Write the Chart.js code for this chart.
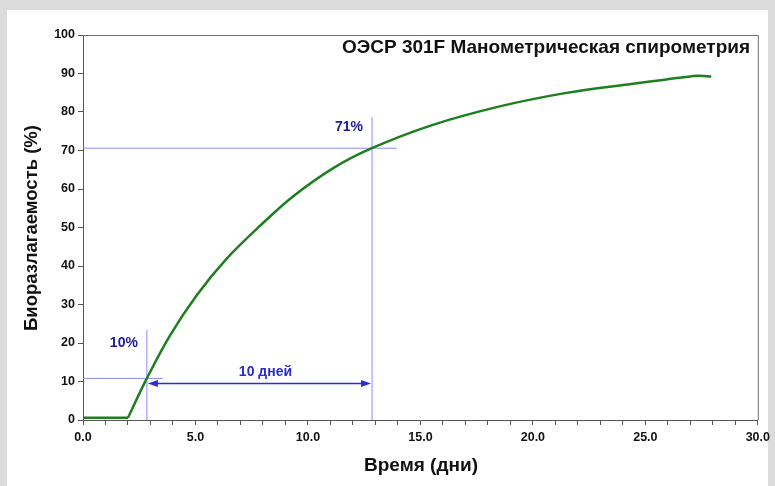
<!DOCTYPE html>
<html>
<head>
<meta charset="utf-8">
<script src="https://cdn.jsdelivr.net/npm/chart.js@4.4.1/dist/chart.umd.min.js"></script>
<style>
html,body{margin:0;padding:0;background:#dcdcdc;}
canvas{display:block;}
</style>
</head>
<body>
<canvas id="c" width="775" height="486"></canvas>
<script>
// ---- data ----
const chartTitle = "ОЭСР 301F Манометрическая спирометрия";
const xTitle = "Время (дни)";
const yTitle = "Биоразлагаемость (%)";

const lagDays   = [0, 2.0];
const lagValues = [0.6, 0.6];

const curveDays   = [2.0, 2.82, 3.85, 5.04, 6.37, 7.99, 9.32, 11.09, 12.84, 15.52, 18.48, 21.43, 24.38, 25.86, 27.34, 27.93];
const curveValues = [0.6, 10.6, 21.8, 32.3, 41.8, 51.1, 58.0, 65.3, 70.6, 76.6, 81.4, 84.9, 87.3, 88.4, 89.4, 89.2];

// guide markers
const markerDays    = [2.84, 12.85];
const markerLevels  = [10.8, 70.6];
const markerTops    = [23.4, 78.7];
const markerEnds    = [3.55, 13.95];
const markerLabels  = ["10%", "71%"];
const spanLabel     = "10 дней";
const spanLevel     = 9.6;

const xTicksLabelled = [0, 5, 10, 15, 20, 25, 30];

// ---- build datasets ----
const toXY = (xs, ys) => xs.map((x, i) => ({x, y: ys[i]}));
const guideSets = [];
markerDays.forEach((d, i) => {
  guideSets.push({data: [{x: 0, y: markerLevels[i]}, {x: markerEnds[i], y: markerLevels[i]}]});
  guideSets.push({data: [{x: d, y: 0}, {x: d, y: markerTops[i]}]});
});

const FONT = "'Liberation Sans', Arial, sans-serif";

const bgPlugin = {
  id: 'bg',
  beforeDraw(chart) {
    const ctx = chart.ctx;
    ctx.save();
    ctx.fillStyle = '#dcdcdc';
    ctx.fillRect(0, 0, chart.width, chart.height);
    ctx.fillStyle = '#ffffff';
    ctx.fillRect(7, 10, 761, chart.height - 10);
    ctx.restore();
  }
};

const annPlugin = {
  id: 'ann',
  afterDraw(chart) {
    const ctx = chart.ctx;
    const xs = chart.scales.x, ys = chart.scales.y;
    const a = chart.chartArea;
    ctx.save();
    // frame top/right
    ctx.strokeStyle = '#707070';
    ctx.lineWidth = 1;
    ctx.beginPath();
    ctx.moveTo(a.left, a.top + 0.5);
    ctx.lineTo(a.right + 0.5, a.top + 0.5);
    ctx.lineTo(a.right + 0.5, a.bottom);
    ctx.stroke();

    // chart title inside plot
    ctx.fillStyle = '#111';
    ctx.font = "bold 19px " + FONT;
    ctx.textAlign = 'right';
    ctx.textBaseline = 'middle';
    ctx.fillText(chartTitle, 750, 48);

    // axis titles
    ctx.textAlign = 'center';
    ctx.fillText(xTitle, 421, 466);
    ctx.save();
    ctx.font = "bold 18.5px " + FONT;
    ctx.translate(32, 228);
    ctx.rotate(-Math.PI / 2);
    ctx.fillText(yTitle, 0, 0);
    ctx.restore();

    // marker labels
    ctx.fillStyle = '#1a1a9c';
    ctx.font = "bold 14px " + FONT;
    ctx.textAlign = 'right';
    ctx.fillText(markerLabels[0], xs.getPixelForValue(markerDays[0]) - 9, ys.getPixelForValue(20.0));
    ctx.fillText(markerLabels[1], xs.getPixelForValue(markerDays[1]) - 9, ys.getPixelForValue(76.0));

    // span arrow
    const x1 = xs.getPixelForValue(markerDays[0]);
    const x2 = xs.getPixelForValue(markerDays[1]);
    const y = Math.round(ys.getPixelForValue(spanLevel)) + 0.5;
    ctx.strokeStyle = '#2a2ae0';
    ctx.fillStyle = '#2a2ae0';
    ctx.lineWidth = 1.5;
    ctx.beginPath();
    ctx.moveTo(x1 + 8, y);
    ctx.lineTo(x2 - 8, y);
    ctx.stroke();
    ctx.beginPath();
    ctx.moveTo(x1 + 1, y); ctx.lineTo(x1 + 11, y - 3.5); ctx.lineTo(x1 + 11, y + 3.5); ctx.closePath();
    ctx.fill();
    ctx.beginPath();
    ctx.moveTo(x2 - 1, y); ctx.lineTo(x2 - 11, y - 3.5); ctx.lineTo(x2 - 11, y + 3.5); ctx.closePath();
    ctx.fill();
    ctx.font = "bold 14px " + FONT;
    ctx.textAlign = 'center';
    ctx.fillStyle = '#2a2ad0';
    ctx.fillText(spanLabel, (x1 + x2) / 2 + 6, y - 11);
    ctx.restore();
  }
};

new Chart(document.getElementById('c'), {
  type: 'line',
  data: {
    datasets: [
      {data: toXY(lagDays, lagValues), borderColor: '#1e7f1e', borderWidth: 2.5, pointRadius: 0, tension: 0, order: 0},
      {data: toXY(curveDays, curveValues), borderColor: '#1e7f1e', borderWidth: 2.5, pointRadius: 0, tension: 0.35, order: 0},
      ...guideSets.map(g => Object.assign(g, {borderColor: '#8a8aff', borderWidth: 1, pointRadius: 0, tension: 0, order: 1}))
    ]
  },
  options: {
    responsive: false,
    animation: false,
    layout: {padding: {top: 35, right: 16, left: 0, bottom: 0}},
    plugins: {legend: {display: false}, tooltip: {enabled: false}, title: {display: false}},
    scales: {
      x: {
        type: 'linear', min: 0, max: 30,
        afterFit(s) { s.height = 66; },
        border: {color: '#555', width: 1},
        grid: {drawOnChartArea: false, tickLength: 5, color: '#555'},
        ticks: {
          stepSize: 1, autoSkip: false, maxRotation: 0, padding: 5, color: '#111',
          font: {family: FONT, size: 12.5, weight: 'bold'},
          callback: v => xTicksLabelled.includes(v) ? v.toFixed(1) : ''
        }
      },
      y: {
        min: 0, max: 100,
        afterFit(s) { s.width = 83; },
        border: {color: '#555', width: 1},
        grid: {drawOnChartArea: false, tickLength: 5, color: '#555'},
        ticks: {stepSize: 10, padding: 3, color: '#111', font: {family: FONT, size: 12.5, weight: 'bold'}}
      }
    }
  },
  plugins: [bgPlugin, annPlugin]
});
</script>
</body>
</html>
